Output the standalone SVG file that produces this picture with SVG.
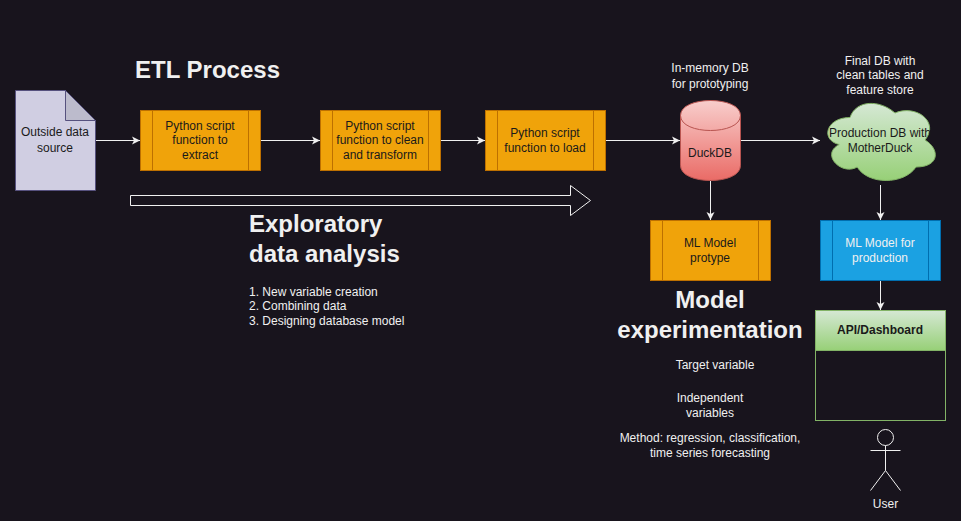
<svg xmlns="http://www.w3.org/2000/svg" width="961" height="521" viewBox="0 0 961 521">
<style>
text{font-family:"Liberation Sans",Arial,sans-serif;font-size:12px;text-anchor:middle;fill:#1a1a1a}
.w{fill:#f0f0f0}
.t{font-size:24px;font-weight:bold;fill:#f0f0f0}
.l{text-anchor:start}
.c{fill:none;stroke:#f0f0f0;stroke-width:1;marker-end:url(#a)}
.o{fill:#f0a30a;stroke:#bd7000}
.b{fill:#1ba1e2;stroke:#006eaf}
.i{fill:none}
.o+.i{stroke:#bd7000}
.b+.i{stroke:#006eaf}
</style>
<defs>
<marker id="a" markerUnits="userSpaceOnUse" markerWidth="9" markerHeight="10" refX="8" refY="5" orient="auto"><path d="M0 1 L8 5 L0 9 L2 5 Z" fill="#f0f0f0"/></marker>
<linearGradient id="r" x1="0" y1="0" x2="0" y2="1"><stop offset="0" stop-color="#f8cecc"/><stop offset="1" stop-color="#ea6b66"/></linearGradient>
<linearGradient id="g" x1="0" y1="0" x2="0" y2="1"><stop offset="0" stop-color="#d5e8d4"/><stop offset="1" stop-color="#97d077"/></linearGradient>
</defs>
<rect width="961" height="521" fill="#18141d"/>
<g id="connectors">
<path class="c" d="M96 140.500H140"/>
<path class="c" d="M261 140.500H320"/>
<path class="c" d="M441 140.500H485"/>
<path class="c" d="M606 140.500H680"/>
<path class="c" d="M741 140.500H820"/>
<path class="c" d="M710.500 181V220"/>
<path class="c" d="M880.500 185V220"/>
<path class="c" d="M880.500 281V310"/>
</g>
<g id="source"><path d="M15.500 90.500H65.500L95.500 120.500V190.500H15.500Z" fill="#d0cee2" stroke="#56517e"/><path d="M65.500 90.500L95.500 120.500H65.500Z" fill="#bcbbcc" stroke="#56517e"/><text x="55" y="136">Outside data</text><text x="55" y="152">source</text></g>
<text class="t" x="207.500" y="78">ETL Process</text>
<g id="extract"><rect class="o" x="140.500" y="110.500" width="120" height="60"/><path class="i" d="M152.500 110.500V170.500M248.500 110.500V170.500"/><text x="200" y="130">Python script</text><text x="200" y="144">function to</text><text x="200" y="159">extract</text></g>
<g id="transform"><rect class="o" x="320.500" y="110.500" width="120" height="60"/><path class="i" d="M332.500 110.500V170.500M428.500 110.500V170.500"/><text x="380" y="130">Python script</text><text x="380" y="144">function to clean</text><text x="380" y="159">and transform</text></g>
<g id="load"><rect class="o" x="485.500" y="110.500" width="120" height="60"/><path class="i" d="M497.500 110.500V170.500M593.500 110.500V170.500"/><text x="545" y="137">Python script</text><text x="545" y="152">function to load</text></g>
<g id="eda-arrow"><path d="M130.500 195.500H570.500V185.500L590.500 200.500L570.500 215.500V205.500H130.500Z" fill="none" stroke="#f0f0f0"/></g>
<g id="eda"><text class="t l" x="249" y="232">Exploratory</text><text class="t l" x="249" y="262">data analysis</text><text class="w l" x="249" y="296">1. New variable creation</text><text class="w l" x="249" y="310">2. Combining data</text><text class="w l" x="249" y="325">3. Designing database model</text></g>
<g id="duckdb"><path d="M680.500 115.500C680.500 95.500 740.500 95.500 740.500 115.500V165.500C740.500 185.500 680.500 185.500 680.500 165.500Z" fill="url(#r)" stroke="#b85450"/><path d="M680.500 115.500C680.500 135.500 740.500 135.500 740.500 115.500" fill="none" stroke="#b85450"/><text x="710" y="157">DuckDB</text></g>
<text class="w" x="710" y="72">In-memory DB</text><text class="w" x="710" y="88">for prototyping</text>
<g id="cloud"><path d="M850 117.500C826 117.500 820 140 839.200 144.500C820 154.400 841.600 176 857.200 167C868 185 904 185 916 167C940 167 940 149 925 140C940 122 916 104 895 113C880 99.500 856 99.500 850 117.500Z" fill="url(#g)" stroke="#82b366"/><text x="880" y="137">Production DB with</text><text x="880" y="152">MotherDuck</text></g>
<text class="w" x="880" y="65">Final DB with</text><text class="w" x="880" y="79">clean tables and</text><text class="w" x="880" y="94">feature store</text>
<g id="ml-proto"><rect class="o" x="650.500" y="220.500" width="120" height="60"/><path class="i" d="M662.500 220.500V280.500M758.500 220.500V280.500"/><text x="710" y="247">ML Model</text><text x="710" y="262">protype</text></g>
<g id="ml-prod"><rect class="b" x="820.500" y="220.500" width="120" height="60"/><path class="i" d="M832.500 220.500V280.500M928.500 220.500V280.500"/><text class="w" x="880" y="247">ML Model for</text><text class="w" x="880" y="262">production</text></g>
<g id="experiment"><text class="t" x="710" y="308">Model</text><text class="t" x="710" y="338">experimentation</text><text class="w" x="715" y="369">Target variable</text><text class="w" x="710" y="402">Independent</text><text class="w" x="710" y="417">variables</text><text class="w" x="710" y="442">Method: regression, classification,</text><text class="w" x="710" y="457">time series forecasting</text></g>
<g id="api"><rect x="815.500" y="310.500" width="130" height="110" fill="none" stroke="#82b366"/><rect x="815.500" y="310.500" width="130" height="40" fill="url(#g)" stroke="#82b366"/><text x="880" y="334" font-weight="bold" style="font-weight:bold">API/Dashboard</text></g>
<g id="user" fill="none" stroke="#f0f0f0"><circle cx="885.500" cy="437.500" r="8"/><path d="M885.500 445.500V470.500M870.500 450.500H900.500M870.500 490.500L885.500 470.500L900.500 490.500"/><text class="w" x="885.500" y="508" stroke="none">User</text></g>
</svg>
